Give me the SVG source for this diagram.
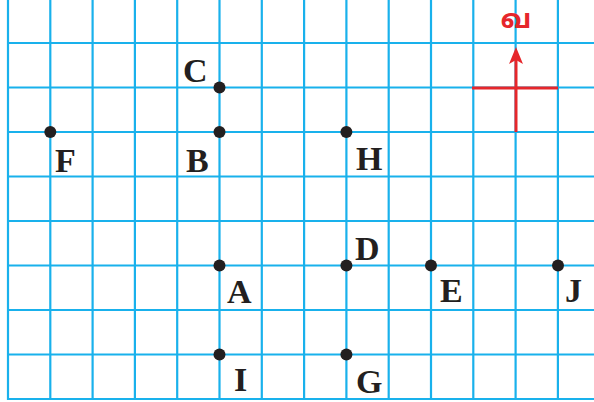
<svg xmlns="http://www.w3.org/2000/svg" width="594" height="402" viewBox="0 0 594 402">
<style>
.grid line{stroke:#19b1ec;stroke-width:2.2}
.pt{fill:#231f20}
.lbl{font-family:"Liberation Serif","Times New Roman",serif;font-weight:bold;font-size:34px;fill:#231f20}
.red{stroke:#e6262b;stroke-width:3;fill:none}
</style>
<rect width="594" height="402" fill="#fff"/>
<g id="grid" class="grid">
<line x1="8" y1="0" x2="8" y2="400"/>
<line x1="50.3" y1="0" x2="50.3" y2="400"/>
<line x1="92.6" y1="0" x2="92.6" y2="400"/>
<line x1="134.9" y1="0" x2="134.9" y2="400"/>
<line x1="177.2" y1="0" x2="177.2" y2="400"/>
<line x1="219.5" y1="0" x2="219.5" y2="400"/>
<line x1="261.8" y1="0" x2="261.8" y2="400"/>
<line x1="304.1" y1="0" x2="304.1" y2="400"/>
<line x1="346.4" y1="0" x2="346.4" y2="400"/>
<line x1="388.7" y1="0" x2="388.7" y2="400"/>
<line x1="431" y1="0" x2="431" y2="400"/>
<line x1="473.3" y1="0" x2="473.3" y2="400"/>
<line x1="515.6" y1="0" x2="515.6" y2="400"/>
<line x1="557.9" y1="0" x2="557.9" y2="400"/>
<line x1="7" y1="43" x2="594" y2="43"/>
<line x1="7" y1="87.5" x2="594" y2="87.5"/>
<line x1="7" y1="132" x2="594" y2="132"/>
<line x1="7" y1="176.5" x2="594" y2="176.5"/>
<line x1="7" y1="221" x2="594" y2="221"/>
<line x1="7" y1="265.5" x2="594" y2="265.5"/>
<line x1="7" y1="310" x2="594" y2="310"/>
<line x1="7" y1="354.5" x2="594" y2="354.5"/>
<line x1="7" y1="399" x2="594" y2="399"/>
</g>
<g id="compass">
<line class="red" x1="472" y1="88" x2="558" y2="88"/>
<line class="red" x1="516" y1="132" x2="516" y2="58"/>
<path d="M516,47 L523,64 L516,60 L509,64 Z" fill="#e6262b"/>
<text x="516" y="28" text-anchor="middle" font-family="'Noto Sans Tamil','Lohit Tamil','Noto Sans',sans-serif" font-weight="bold" font-size="27" fill="#e6262b">வ</text>
</g>
<g id="C"><circle class="pt" cx="219.5" cy="87.5" r="6"/><text class="lbl" x="183" y="82">C</text></g>
<g id="B"><circle class="pt" cx="219.5" cy="132" r="6"/><text class="lbl" x="186" y="172">B</text></g>
<g id="F"><circle class="pt" cx="50.3" cy="132" r="6"/><text class="lbl" x="55" y="172">F</text></g>
<g id="H"><circle class="pt" cx="346.4" cy="132" r="6"/><text class="lbl" x="356" y="170">H</text></g>
<g id="A"><circle class="pt" cx="219.5" cy="265.5" r="6"/><text class="lbl" x="227" y="303">A</text></g>
<g id="D"><circle class="pt" cx="346.4" cy="265.5" r="6"/><text class="lbl" x="355" y="260">D</text></g>
<g id="E"><circle class="pt" cx="431" cy="265.5" r="6"/><text class="lbl" x="440" y="302">E</text></g>
<g id="J"><circle class="pt" cx="558" cy="265.5" r="6"/><text class="lbl" x="565" y="302">J</text></g>
<g id="I"><circle class="pt" cx="219.5" cy="354.5" r="6"/><text class="lbl" x="234" y="391">I</text></g>
<g id="G"><circle class="pt" cx="346.4" cy="354.5" r="6"/><text class="lbl" x="356" y="393">G</text></g>
</svg>
